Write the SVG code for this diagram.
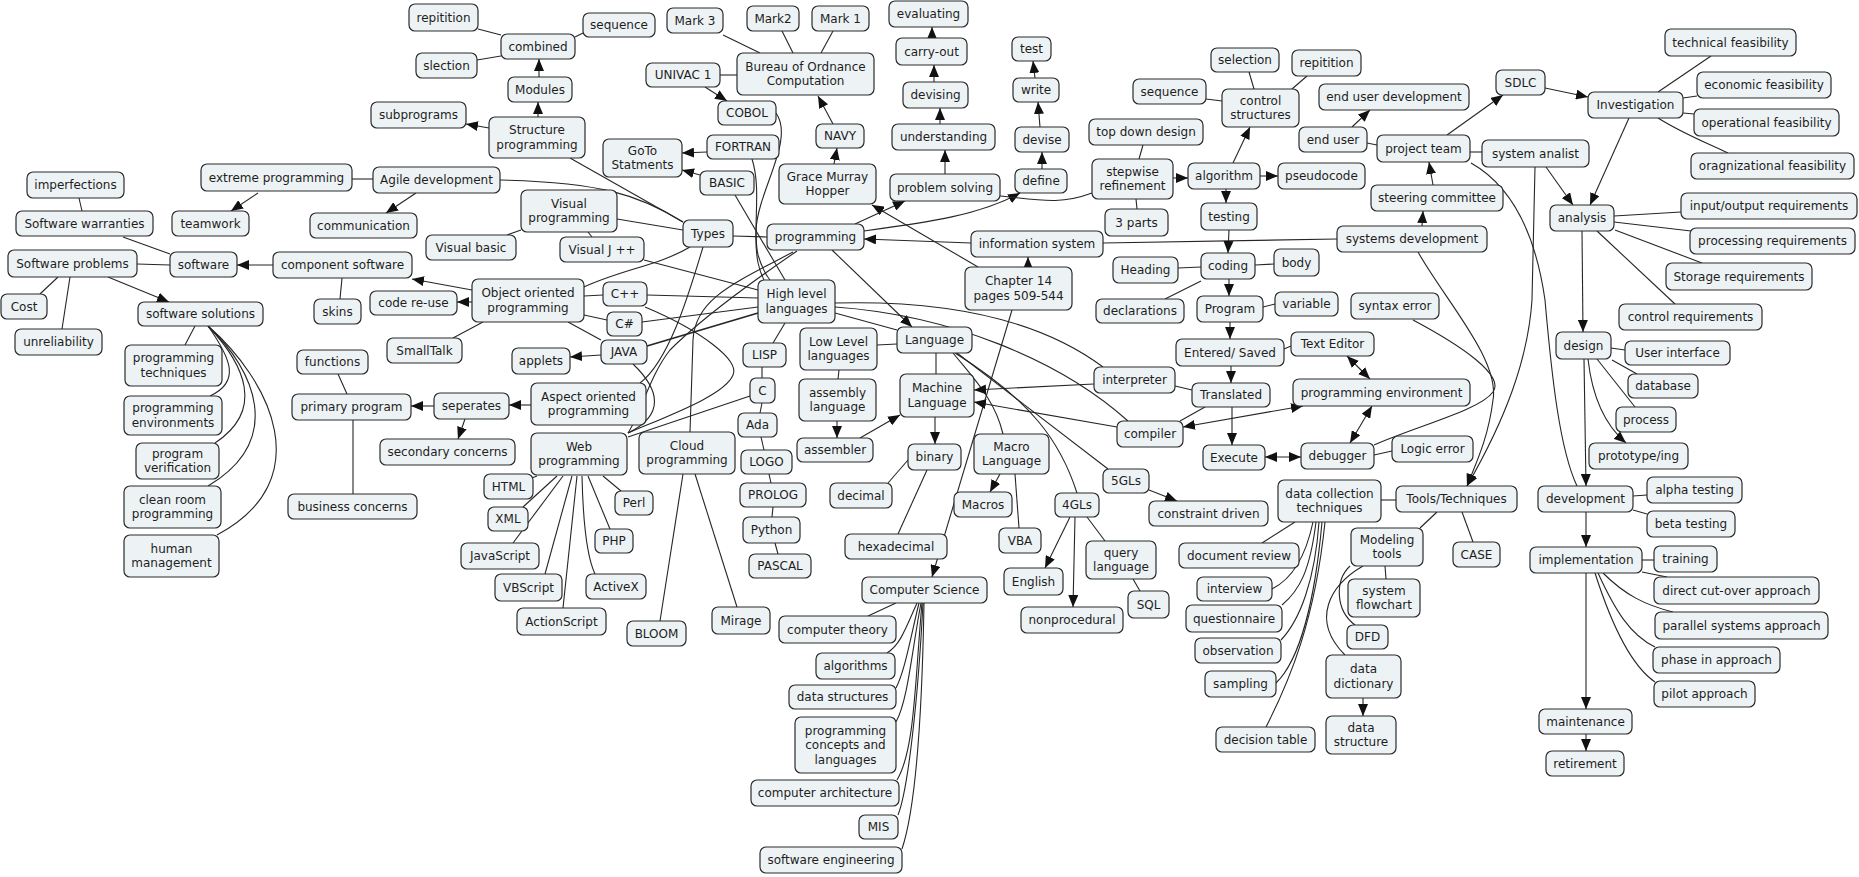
<svg xmlns="http://www.w3.org/2000/svg" width="1859" height="877" viewBox="0 0 1859 877">
<style>
.n rect{fill:#edf3f5;stroke:#2b2b2b;stroke-width:1.2}
.n text{font-family:"DejaVu Sans",Verdana,sans-serif;font-size:12px;fill:#1e1e1e;text-anchor:middle;dominant-baseline:central}
#edges path{fill:none;stroke:#262626;stroke-width:1.1}
#edges .a{marker-end:url(#ah)}
#edges .d{marker-start:url(#ah);marker-end:url(#ah)}
</style>
<defs>
<marker id="ah" viewBox="0 0 12 10" refX="12" refY="5" markerWidth="12" markerHeight="10" markerUnits="userSpaceOnUse" orient="auto-start-reverse"><path d="M0,0 L12,5 L0,10 z" fill="#111"/></marker>
</defs>
<rect width="1859" height="877" fill="#fff"/>
<g id="edges">
<path d="M501,35 L478,29"/>
<path d="M501,56 L477,60"/>
<path d="M575,37 L583,33"/>
<path class="a" d="M539,77 L539,59"/>
<path class="a" d="M538,117 L538,102"/>
<path class="a" d="M489,128 L466,124"/>
<path d="M570,158 L683,222"/>
<path d="M352,179 L373,179"/>
<path class="a" d="M258,193 L231,211"/>
<path class="a" d="M416,193 L386,213"/>
<path d="M500,180 C600,182 640,195 683,222"/>
<path d="M79,198 L82,211"/>
<path d="M123,237 L170,254"/>
<path d="M137,264 L170,265"/>
<path class="a" d="M273,265 L237,265"/>
<path d="M58,277 L40,294"/>
<path d="M70,277 L62,329"/>
<path class="a" d="M108,277 L169,302"/>
<path d="M195,326 L185,345"/>
<path d="M208,326 C232,360 240,382 210,396"/>
<path d="M208,326 C245,365 265,410 215,443"/>
<path d="M208,326 C255,370 285,440 208,486"/>
<path d="M208,326 C270,380 320,480 217,535"/>
<path d="M342,278 L340,299"/>
<path class="a" d="M472,290 L412,279"/>
<path class="a" d="M472,302 L457,302"/>
<path d="M483,322 L453,338"/>
<path d="M584,296 L603,295"/>
<path d="M584,315 L607,320"/>
<path d="M568,322 L601,340"/>
<path d="M521,230 L507,235"/>
<path d="M588,232 L592,237"/>
<path d="M617,219 L683,230"/>
<path d="M733,236 L767,237"/>
<path d="M690,247 C660,265 620,270 584,287"/>
<path d="M703,247 C690,290 670,360 640,383"/>
<path d="M644,260 L758,290"/>
<path d="M647,295 L758,298"/>
<path d="M642,322 L758,307"/>
<path d="M647,346 L758,313" style="stroke-width:1.8"/>
<path class="a" d="M601,355 L570,357"/>
<path d="M633,364 C660,390 665,415 628,433"/>
<path d="M645,307 C700,330 740,360 733,375 C725,395 670,415 628,433"/>
<path d="M750,396 L628,437"/>
<path d="M797,251 C740,290 700,320 670,350 C650,375 640,415 628,433"/>
<path d="M793,252 C730,285 695,300 693,340 L690,432"/>
<path d="M785,323 L773,343"/>
<path d="M762,367 L762,378"/>
<path d="M762,403 L760,413"/>
<path d="M761,437 L764,450"/>
<path d="M769,474 L771,483"/>
<path d="M773,507 L772,517"/>
<path d="M775,543 L778,554"/>
<path class="a" d="M531,405 L509,405"/>
<path class="a" d="M434,406 L411,406"/>
<path class="a" d="M465,419 L458,439"/>
<path d="M347,394 L338,374"/>
<path d="M353,420 L353,494"/>
<path d="M537,476 L532,478"/>
<path d="M557,476 L523,507"/>
<path d="M563,476 L513,543"/>
<path d="M572,476 L545,574"/>
<path d="M577,476 L563,608"/>
<path d="M582,476 C583,520 586,555 595,574"/>
<path d="M588,476 L610,529"/>
<path d="M603,476 L621,491"/>
<path d="M683,474 L660,621"/>
<path d="M695,474 L737,607"/>
<path d="M723,35 L760,53"/>
<path d="M782,31 L793,53"/>
<path d="M833,31 L821,53"/>
<path d="M720,75 L737,75"/>
<path class="a" d="M705,87 L727,101"/>
<path class="a" d="M833,124 L818,96"/>
<path class="a" d="M834,164 L837,148"/>
<path class="a" d="M707,152 L682,153"/>
<path class="a" d="M700,175 L682,170"/>
<path d="M776,113 C795,140 758,190 756,230 C755,260 760,272 764,280"/>
<path d="M752,159 C762,190 752,230 758,255 C762,268 766,275 770,280"/>
<path d="M735,195 L785,280"/>
<path class="a" d="M978,267 L872,205"/>
<path class="a" d="M855,224 L905,201"/>
<path class="a" d="M864,231 C930,222 980,215 1020,193"/>
<path d="M1000,196 C1040,200 1060,205 1092,193"/>
<path class="a" d="M971,243 L864,239"/>
<path class="a" d="M1028,267 L1028,257"/>
<path class="a" d="M1012,310 L932,577"/>
<path class="a" d="M832,250 L912,327"/>
<path d="M1103,243 L1337,239"/>
<path d="M835,303 C950,300 1040,320 1103,367"/>
<path d="M835,307 C950,315 1060,360 1128,421"/>
<path d="M835,313 L897,330"/>
<path d="M877,345 L897,344"/>
<path d="M936,353 L936,374"/>
<path d="M953,353 C975,380 995,400 1003,434"/>
<path d="M955,353 C1030,400 1060,440 1077,493"/>
<path d="M957,353 L1108,469"/>
<path class="a" d="M935,417 L935,444"/>
<path d="M908,460 L888,483"/>
<path d="M927,470 L898,534"/>
<path d="M839,370 L838,379"/>
<path class="a" d="M837,421 L837,438"/>
<path class="a" d="M860,438 L900,415"/>
<path class="a" d="M1094,384 L974,390"/>
<path class="a" d="M1117,427 L974,402"/>
<path d="M1175,386 L1192,390"/>
<path d="M1205,407 L1180,421"/>
<path class="d" d="M1183,427 L1303,406"/>
<path class="a" d="M1232,407 L1232,445"/>
<path class="d" d="M1265,457 L1301,457"/>
<path class="d" d="M1350,443 L1372,406"/>
<path class="d" d="M1347,356 L1370,379"/>
<path d="M1284,349 L1291,346"/>
<path class="a" d="M1231,366 L1231,383"/>
<path class="a" d="M1230,322 L1230,339"/>
<path d="M1263,307 L1275,304"/>
<path class="a" d="M1229,279 L1229,296"/>
<path d="M1201,267 L1178,268"/>
<path d="M1255,265 L1274,264"/>
<path d="M1201,281 L1165,299"/>
<path class="a" d="M1229,230 L1228,253"/>
<path class="a" d="M1226,189 L1226,203"/>
<path class="a" d="M1260,176 L1278,176"/>
<path class="a" d="M1233,163 L1250,127"/>
<path class="a" d="M1173,178 L1188,178"/>
<path d="M1139,159 L1143,145"/>
<path d="M1136,199 L1137,209"/>
<path d="M1222,101 L1206,99"/>
<path d="M1254,89 L1249,72"/>
<path d="M1292,89 L1307,76"/>
<path class="a" d="M945,174 L945,150"/>
<path class="a" d="M940,124 L940,108"/>
<path class="a" d="M934,82 L934,65"/>
<path class="a" d="M932,38 L932,27"/>
<path class="a" d="M1042,169 L1042,152"/>
<path class="a" d="M1040,127 L1038,102"/>
<path class="a" d="M1035,78 L1033,61"/>
<path class="a" d="M1422,226 L1423,211"/>
<path class="a" d="M1433,185 L1429,162"/>
<path d="M1367,143 L1377,145"/>
<path class="a" d="M1352,127 L1370,110"/>
<path class="a" d="M1447,135 L1503,95"/>
<path class="a" d="M1545,88 L1588,97"/>
<path d="M1470,152 L1482,152"/>
<path d="M1658,92 L1711,56"/>
<path d="M1683,98 L1697,96"/>
<path d="M1683,113 L1694,114"/>
<path d="M1658,118 C1680,132 1700,140 1728,153"/>
<path class="a" d="M1629,118 L1590,205"/>
<path class="a" d="M1546,167 L1573,205"/>
<path d="M1614,216 L1681,212"/>
<path d="M1614,222 L1691,231"/>
<path d="M1615,230 L1702,263"/>
<path d="M1597,231 L1675,304"/>
<path class="a" d="M1582,231 L1583,332"/>
<path d="M1611,348 L1625,350"/>
<path d="M1612,360 L1637,374"/>
<path d="M1597,359 L1635,407"/>
<path class="a" d="M1588,359 C1592,395 1605,425 1626,443"/>
<path class="a" d="M1584,359 L1586,486"/>
<path d="M1633,496 L1647,495"/>
<path d="M1633,510 L1647,514"/>
<path class="a" d="M1586,512 L1586,547"/>
<path d="M1642,560 L1654,560"/>
<path d="M1642,572 L1667,577"/>
<path d="M1603,573 C1625,595 1645,605 1673,612"/>
<path d="M1598,573 C1615,610 1630,635 1655,647"/>
<path d="M1595,573 C1610,620 1630,665 1655,682"/>
<path class="a" d="M1586,573 L1586,709"/>
<path class="a" d="M1586,734 L1586,751"/>
<path d="M1471,163 C1510,185 1535,230 1545,300 C1552,380 1560,450 1577,486"/>
<path class="a" d="M1535,167 L1532,300 C1528,360 1505,420 1467,486"/>
<path class="a" d="M1418,252 C1445,300 1500,360 1493,400 C1488,440 1475,465 1467,486"/>
<path d="M1413,320 C1460,345 1505,375 1493,392 C1480,410 1420,425 1374,445"/>
<path d="M1374,455 L1392,451"/>
<path d="M1381,500 L1396,500"/>
<path d="M1437,512 L1420,528"/>
<path d="M1462,512 L1473,542"/>
<path d="M1295,522 L1262,543"/>
<path d="M1313,522 C1305,560 1290,580 1272,589"/>
<path d="M1316,522 C1310,570 1300,590 1282,605"/>
<path d="M1319,522 C1315,580 1300,620 1281,640"/>
<path d="M1322,522 C1315,600 1300,660 1276,683"/>
<path d="M1325,522 C1315,620 1290,680 1266,727"/>
<path d="M1385,566 L1386,579"/>
<path d="M1350,566 C1335,580 1335,610 1355,625"/>
<path d="M1363,566 C1330,585 1310,620 1345,655"/>
<path class="a" d="M1363,698 L1363,716"/>
<path class="a" d="M1149,490 L1177,501"/>
<path class="a" d="M1000,474 L990,492"/>
<path d="M1015,474 L1019,528"/>
<path class="a" d="M1070,517 L1045,568"/>
<path class="a" d="M1075,517 L1073,607"/>
<path d="M1087,517 L1105,541"/>
<path d="M1133,579 L1140,591"/>
<path d="M896,603 L868,616"/>
<path d="M917,603 C905,630 900,645 887,653"/>
<path d="M919,603 C910,640 905,670 896,688"/>
<path d="M921,603 C912,650 908,700 896,722"/>
<path d="M922,603 C915,680 915,750 897,780"/>
<path d="M923,603 C918,700 908,790 898,815"/>
<path d="M924,603 C922,720 915,810 902,849"/>
</g>
<g id="n-repitition1" class="n"><rect x="409" y="4" width="69" height="27" rx="6"/><text x="443.5" y="17.5">repitition</text></g>
<g id="n-slection" class="n"><rect x="416" y="53" width="61" height="25" rx="6"/><text x="446.5" y="65.5">slection</text></g>
<g id="n-sequence1" class="n"><rect x="583" y="13" width="72" height="24" rx="6"/><text x="619" y="25">sequence</text></g>
<g id="n-combined" class="n"><rect x="501" y="34" width="74" height="25" rx="6"/><text x="538" y="46.5">combined</text></g>
<g id="n-modules" class="n"><rect x="508" y="77" width="64" height="25" rx="6"/><text x="540" y="89.5">Modules</text></g>
<g id="n-subprograms" class="n"><rect x="371" y="102" width="95" height="26" rx="6"/><text x="418.5" y="115">subprograms</text></g>
<g id="n-structprog" class="n"><rect x="489" y="117" width="96" height="41" rx="6"/><text x="537" y="130.25">Structure<tspan x="537" dy="14.5">programming</tspan></text></g>
<g id="n-extreme" class="n"><rect x="201" y="164" width="151" height="27" rx="6"/><text x="276.5" y="177.5">extreme programming</text></g>
<g id="n-agile" class="n"><rect x="373" y="167" width="127" height="26" rx="6"/><text x="436.5" y="180">Agile development</text></g>
<g id="n-imperfections" class="n"><rect x="27" y="172" width="97" height="26" rx="6"/><text x="75.5" y="185">imperfections</text></g>
<g id="n-warranties" class="n"><rect x="16" y="211" width="137" height="25" rx="6"/><text x="84.5" y="223.5">Software warranties</text></g>
<g id="n-teamwork" class="n"><rect x="172" y="211" width="77" height="25" rx="6"/><text x="210.5" y="223.5">teamwork</text></g>
<g id="n-communication" class="n"><rect x="310" y="213" width="107" height="25" rx="6"/><text x="363.5" y="225.5">communication</text></g>
<g id="n-swproblems" class="n"><rect x="8" y="250" width="129" height="27" rx="6"/><text x="72.5" y="263.5">Software problems</text></g>
<g id="n-software" class="n"><rect x="170" y="252" width="67" height="25" rx="6"/><text x="203.5" y="264.5">software</text></g>
<g id="n-compsw" class="n"><rect x="273" y="252" width="139" height="26" rx="6"/><text x="342.5" y="265">component software</text></g>
<g id="n-visualbasic" class="n"><rect x="426" y="235" width="90" height="25" rx="6"/><text x="471" y="247.5">Visual basic</text></g>
<g id="n-mark3" class="n"><rect x="667" y="8" width="56" height="25" rx="6"/><text x="695" y="20.5">Mark 3</text></g>
<g id="n-mark2" class="n"><rect x="747" y="6" width="52" height="25" rx="6"/><text x="773" y="18.5">Mark2</text></g>
<g id="n-mark1" class="n"><rect x="812" y="6" width="57" height="25" rx="6"/><text x="840.5" y="18.5">Mark 1</text></g>
<g id="n-evaluating" class="n"><rect x="889" y="1" width="79" height="26" rx="6"/><text x="928.5" y="14">evaluating</text></g>
<g id="n-univac" class="n"><rect x="646" y="63" width="74" height="24" rx="6"/><text x="683" y="75">UNIVAC 1</text></g>
<g id="n-bureau" class="n"><rect x="737" y="53" width="137" height="42" rx="6"/><text x="805.5" y="66.75">Bureau of Ordnance<tspan x="805.5" dy="14.5">Computation</tspan></text></g>
<g id="n-carryout" class="n"><rect x="896" y="38" width="71" height="27" rx="6"/><text x="931.5" y="51.5">carry-out</text></g>
<g id="n-devising" class="n"><rect x="903" y="82" width="65" height="26" rx="6"/><text x="935.5" y="95">devising</text></g>
<g id="n-cobol" class="n"><rect x="718" y="101" width="58" height="24" rx="6"/><text x="747" y="113">COBOL</text></g>
<g id="n-navy" class="n"><rect x="816" y="124" width="48" height="24" rx="6"/><text x="840" y="136">NAVY</text></g>
<g id="n-understanding" class="n"><rect x="892" y="124" width="103" height="26" rx="6"/><text x="943.5" y="137">understanding</text></g>
<g id="n-fortran" class="n"><rect x="707" y="135" width="72" height="24" rx="6"/><text x="743" y="147">FORTRAN</text></g>
<g id="n-goto" class="n"><rect x="603" y="139" width="79" height="38" rx="6"/><text x="642.5" y="150.75">GoTo<tspan x="642.5" dy="14.5">Statments</tspan></text></g>
<g id="n-basic" class="n"><rect x="700" y="171" width="54" height="24" rx="6"/><text x="727" y="183">BASIC</text></g>
<g id="n-grace" class="n"><rect x="779" y="164" width="97" height="40" rx="6"/><text x="827.5" y="176.75">Grace Murray<tspan x="827.5" dy="14.5">Hopper</tspan></text></g>
<g id="n-problemsolving" class="n"><rect x="890" y="174" width="110" height="27" rx="6"/><text x="945" y="187.5">problem solving</text></g>
<g id="n-visualprog" class="n"><rect x="521" y="190" width="96" height="42" rx="6"/><text x="569" y="203.75">Visual<tspan x="569" dy="14.5">programming</tspan></text></g>
<g id="n-types" class="n"><rect x="683" y="220" width="50" height="27" rx="6"/><text x="708" y="233.5">Types</text></g>
<g id="n-programming" class="n"><rect x="767" y="224" width="97" height="26" rx="6"/><text x="815.5" y="237">programming</text></g>
<g id="n-visualj" class="n"><rect x="560" y="237" width="84" height="25" rx="6"/><text x="602" y="249.5">Visual J ++</text></g>
<g id="n-oop" class="n"><rect x="472" y="279" width="112" height="43" rx="6"/><text x="528" y="293.25">Object oriented<tspan x="528" dy="14.5">programming</tspan></text></g>
<g id="n-cpp" class="n"><rect x="603" y="282" width="44" height="24" rx="6"/><text x="625" y="294">C++</text></g>
<g id="n-highlevel" class="n"><rect x="758" y="280" width="77" height="43" rx="6"/><text x="796.5" y="294.25">High level<tspan x="796.5" dy="14.5">languages</tspan></text></g>
<g id="n-test" class="n"><rect x="1012" y="37" width="39" height="24" rx="6"/><text x="1031.5" y="49">test</text></g>
<g id="n-write" class="n"><rect x="1013" y="78" width="46" height="24" rx="6"/><text x="1036" y="90">write</text></g>
<g id="n-devise" class="n"><rect x="1015" y="127" width="54" height="25" rx="6"/><text x="1042" y="139.5">devise</text></g>
<g id="n-define" class="n"><rect x="1015" y="169" width="52" height="24" rx="6"/><text x="1041" y="181">define</text></g>
<g id="n-selection" class="n"><rect x="1211" y="48" width="68" height="24" rx="6"/><text x="1245" y="60">selection</text></g>
<g id="n-repitition2" class="n"><rect x="1292" y="50" width="69" height="26" rx="6"/><text x="1326.5" y="63">repitition</text></g>
<g id="n-sequence2" class="n"><rect x="1133" y="79" width="73" height="25" rx="6"/><text x="1169.5" y="91.5">sequence</text></g>
<g id="n-controlstruct" class="n"><rect x="1222" y="89" width="77" height="38" rx="6"/><text x="1260.5" y="100.75">control<tspan x="1260.5" dy="14.5">structures</tspan></text></g>
<g id="n-enduserdev" class="n"><rect x="1319" y="84" width="150" height="26" rx="6"/><text x="1394" y="97">end user development</text></g>
<g id="n-topdown" class="n"><rect x="1089" y="119" width="114" height="26" rx="6"/><text x="1146" y="132">top down design</text></g>
<g id="n-enduser" class="n"><rect x="1299" y="127" width="68" height="25" rx="6"/><text x="1333" y="139.5">end user</text></g>
<g id="n-projectteam" class="n"><rect x="1377" y="135" width="93" height="27" rx="6"/><text x="1423.5" y="148.5">project team</text></g>
<g id="n-stepwise" class="n"><rect x="1092" y="159" width="81" height="40" rx="6"/><text x="1132.5" y="171.75">stepwise<tspan x="1132.5" dy="14.5">refinement</tspan></text></g>
<g id="n-algorithm" class="n"><rect x="1188" y="163" width="72" height="26" rx="6"/><text x="1224" y="176">algorithm</text></g>
<g id="n-pseudocode" class="n"><rect x="1278" y="163" width="87" height="26" rx="6"/><text x="1321.5" y="176">pseudocode</text></g>
<g id="n-steering" class="n"><rect x="1371" y="185" width="132" height="26" rx="6"/><text x="1437" y="198">steering committee</text></g>
<g id="n-threeparts" class="n"><rect x="1105" y="209" width="63" height="27" rx="6"/><text x="1136.5" y="222.5">3 parts</text></g>
<g id="n-testing" class="n"><rect x="1201" y="203" width="56" height="27" rx="6"/><text x="1229" y="216.5">testing</text></g>
<g id="n-infosys" class="n"><rect x="971" y="231" width="132" height="26" rx="6"/><text x="1037" y="244">information system</text></g>
<g id="n-sysdev" class="n"><rect x="1337" y="226" width="150" height="26" rx="6"/><text x="1412" y="239">systems development</text></g>
<g id="n-chapter14" class="n"><rect x="965" y="267" width="107" height="43" rx="6"/><text x="1018.5" y="281.25">Chapter 14<tspan x="1018.5" dy="14.5">pages 509-544</tspan></text></g>
<g id="n-heading" class="n"><rect x="1113" y="257" width="65" height="26" rx="6"/><text x="1145.5" y="270">Heading</text></g>
<g id="n-coding" class="n"><rect x="1201" y="253" width="54" height="26" rx="6"/><text x="1228" y="266">coding</text></g>
<g id="n-body" class="n"><rect x="1274" y="249" width="45" height="27" rx="6"/><text x="1296.5" y="262.5">body</text></g>
<g id="n-technical" class="n"><rect x="1665" y="29" width="131" height="27" rx="6"/><text x="1730.5" y="42.5">technical feasibility</text></g>
<g id="n-sdlc" class="n"><rect x="1496" y="70" width="49" height="25" rx="6"/><text x="1520.5" y="82.5">SDLC</text></g>
<g id="n-economic" class="n"><rect x="1697" y="72" width="134" height="26" rx="6"/><text x="1764" y="85">economic feasibility</text></g>
<g id="n-investigation" class="n"><rect x="1588" y="92" width="95" height="26" rx="6"/><text x="1635.5" y="105">Investigation</text></g>
<g id="n-operational" class="n"><rect x="1694" y="109" width="145" height="27" rx="6"/><text x="1766.5" y="122.5">operational feasibility</text></g>
<g id="n-sysanalist" class="n"><rect x="1482" y="140" width="107" height="27" rx="6"/><text x="1535.5" y="153.5">system analist</text></g>
<g id="n-organizational" class="n"><rect x="1691" y="153" width="163" height="26" rx="6"/><text x="1772.5" y="166">oragnizational feasibility</text></g>
<g id="n-analysis" class="n"><rect x="1550" y="205" width="64" height="26" rx="6"/><text x="1582" y="218">analysis</text></g>
<g id="n-inputoutput" class="n"><rect x="1681" y="193" width="176" height="26" rx="6"/><text x="1769" y="206">input/output requirements</text></g>
<g id="n-processing" class="n"><rect x="1690" y="228" width="165" height="26" rx="6"/><text x="1772.5" y="241">processing requirements</text></g>
<g id="n-storage" class="n"><rect x="1666" y="263" width="146" height="27" rx="6"/><text x="1739" y="276.5">Storage requirements</text></g>
<g id="n-cost" class="n"><rect x="1" y="294" width="46" height="25" rx="6"/><text x="24" y="306.5">Cost</text></g>
<g id="n-unreliability" class="n"><rect x="15" y="329" width="87" height="26" rx="6"/><text x="58.5" y="342">unreliability</text></g>
<g id="n-swsolutions" class="n"><rect x="138" y="302" width="125" height="24" rx="6"/><text x="200.5" y="314">software solutions</text></g>
<g id="n-progtech" class="n"><rect x="125" y="345" width="97" height="41" rx="6"/><text x="173.5" y="358.25">programming<tspan x="173.5" dy="14.5">techniques</tspan></text></g>
<g id="n-progenv" class="n"><rect x="124" y="396" width="98" height="39" rx="6"/><text x="173" y="408.25">programming<tspan x="173" dy="14.5">environments</tspan></text></g>
<g id="n-progverif" class="n"><rect x="136" y="443" width="83" height="36" rx="6"/><text x="177.5" y="453.75">program<tspan x="177.5" dy="14.5">verification</tspan></text></g>
<g id="n-cleanroom" class="n"><rect x="124" y="486" width="97" height="42" rx="6"/><text x="172.5" y="499.75">clean room<tspan x="172.5" dy="14.5">programming</tspan></text></g>
<g id="n-humanmgmt" class="n"><rect x="124" y="535" width="95" height="42" rx="6"/><text x="171.5" y="548.75">human<tspan x="171.5" dy="14.5">management</tspan></text></g>
<g id="n-skins" class="n"><rect x="314" y="299" width="47" height="25" rx="6"/><text x="337.5" y="311.5">skins</text></g>
<g id="n-codereuse" class="n"><rect x="370" y="291" width="87" height="24" rx="6"/><text x="413.5" y="303">code re-use</text></g>
<g id="n-smalltalk" class="n"><rect x="387" y="338" width="75" height="25" rx="6"/><text x="424.5" y="350.5">SmallTalk</text></g>
<g id="n-functions" class="n"><rect x="297" y="350" width="71" height="24" rx="6"/><text x="332.5" y="362">functions</text></g>
<g id="n-primary" class="n"><rect x="292" y="394" width="119" height="26" rx="6"/><text x="351.5" y="407">primary program</text></g>
<g id="n-seperates" class="n"><rect x="434" y="393" width="75" height="26" rx="6"/><text x="471.5" y="406">seperates</text></g>
<g id="n-secondary" class="n"><rect x="380" y="439" width="135" height="26" rx="6"/><text x="447.5" y="452">secondary concerns</text></g>
<g id="n-business" class="n"><rect x="288" y="494" width="129" height="25" rx="6"/><text x="352.5" y="506.5">business concerns</text></g>
<g id="n-csharp" class="n"><rect x="607" y="312" width="35" height="24" rx="6"/><text x="624.5" y="324">C#</text></g>
<g id="n-java" class="n"><rect x="601" y="340" width="46" height="24" rx="6"/><text x="624" y="352">JAVA</text></g>
<g id="n-applets" class="n"><rect x="512" y="348" width="58" height="26" rx="6"/><text x="541" y="361">applets</text></g>
<g id="n-aspect" class="n"><rect x="531" y="383" width="115" height="42" rx="6"/><text x="588.5" y="396.75">Aspect oriented<tspan x="588.5" dy="14.5">programming</tspan></text></g>
<g id="n-web" class="n"><rect x="531" y="433" width="96" height="42" rx="6"/><text x="579" y="446.75">Web<tspan x="579" dy="14.5">programming</tspan></text></g>
<g id="n-cloud" class="n"><rect x="639" y="432" width="96" height="42" rx="6"/><text x="687" y="445.75">Cloud<tspan x="687" dy="14.5">programming</tspan></text></g>
<g id="n-lisp" class="n"><rect x="743" y="343" width="43" height="24" rx="6"/><text x="764.5" y="355">LISP</text></g>
<g id="n-lowlevel" class="n"><rect x="800" y="328" width="77" height="42" rx="6"/><text x="838.5" y="341.75">Low Level<tspan x="838.5" dy="14.5">languages</tspan></text></g>
<g id="n-language" class="n"><rect x="897" y="327" width="75" height="26" rx="6"/><text x="934.5" y="340">Language</text></g>
<g id="n-c" class="n"><rect x="750" y="378" width="25" height="25" rx="6"/><text x="762.5" y="390.5">C</text></g>
<g id="n-assembly" class="n"><rect x="799" y="379" width="77" height="42" rx="6"/><text x="837.5" y="392.75">assembly<tspan x="837.5" dy="14.5">language</tspan></text></g>
<g id="n-machine" class="n"><rect x="900" y="374" width="74" height="43" rx="6"/><text x="937" y="388.25">Machine<tspan x="937" dy="14.5">Language</tspan></text></g>
<g id="n-ada" class="n"><rect x="738" y="413" width="39" height="24" rx="6"/><text x="757.5" y="425">Ada</text></g>
<g id="n-assembler" class="n"><rect x="797" y="438" width="76" height="24" rx="6"/><text x="835" y="450">assembler</text></g>
<g id="n-binary" class="n"><rect x="908" y="444" width="53" height="26" rx="6"/><text x="934.5" y="457">binary</text></g>
<g id="n-logo" class="n"><rect x="741" y="450" width="51" height="24" rx="6"/><text x="766.5" y="462">LOGO</text></g>
<g id="n-html" class="n"><rect x="484" y="474" width="49" height="25" rx="6"/><text x="508.5" y="486.5">HTML</text></g>
<g id="n-perl" class="n"><rect x="615" y="491" width="38" height="24" rx="6"/><text x="634" y="503">Perl</text></g>
<g id="n-prolog" class="n"><rect x="740" y="483" width="66" height="24" rx="6"/><text x="773" y="495">PROLOG</text></g>
<g id="n-decimal" class="n"><rect x="830" y="483" width="62" height="25" rx="6"/><text x="861" y="495.5">decimal</text></g>
<g id="n-xml" class="n"><rect x="488" y="507" width="40" height="24" rx="6"/><text x="508" y="519">XML</text></g>
<g id="n-python" class="n"><rect x="743" y="517" width="57" height="26" rx="6"/><text x="771.5" y="530">Python</text></g>
<g id="n-php" class="n"><rect x="595" y="529" width="38" height="24" rx="6"/><text x="614" y="541">PHP</text></g>
<g id="n-hexadecimal" class="n"><rect x="845" y="534" width="102" height="25" rx="6"/><text x="896" y="546.5">hexadecimal</text></g>
<g id="n-javascript" class="n"><rect x="461" y="543" width="78" height="26" rx="6"/><text x="500" y="556">JavaScript</text></g>
<g id="n-pascal" class="n"><rect x="749" y="554" width="62" height="24" rx="6"/><text x="780" y="566">PASCAL</text></g>
<g id="n-vbscript" class="n"><rect x="495" y="574" width="67" height="27" rx="6"/><text x="528.5" y="587.5">VBScript</text></g>
<g id="n-activex" class="n"><rect x="586" y="574" width="60" height="25" rx="6"/><text x="616" y="586.5">ActiveX</text></g>
<g id="n-compsci" class="n"><rect x="862" y="577" width="125" height="26" rx="6"/><text x="924.5" y="590">Computer Science</text></g>
<g id="n-declarations" class="n"><rect x="1096" y="299" width="88" height="24" rx="6"/><text x="1140" y="311">declarations</text></g>
<g id="n-program" class="n"><rect x="1197" y="296" width="66" height="26" rx="6"/><text x="1230" y="309">Program</text></g>
<g id="n-variable" class="n"><rect x="1275" y="292" width="63" height="24" rx="6"/><text x="1306.5" y="304">variable</text></g>
<g id="n-syntax" class="n"><rect x="1351" y="293" width="88" height="26" rx="6"/><text x="1395" y="306">syntax error</text></g>
<g id="n-texteditor" class="n"><rect x="1291" y="332" width="83" height="24" rx="6"/><text x="1332.5" y="344">Text Editor</text></g>
<g id="n-entered" class="n"><rect x="1176" y="339" width="108" height="27" rx="6"/><text x="1230" y="352.5">Entered/ Saved</text></g>
<g id="n-interpreter" class="n"><rect x="1094" y="367" width="81" height="26" rx="6"/><text x="1134.5" y="380">interpreter</text></g>
<g id="n-translated" class="n"><rect x="1192" y="383" width="78" height="24" rx="6"/><text x="1231" y="395">Translated</text></g>
<g id="n-progenvironment" class="n"><rect x="1293" y="379" width="177" height="27" rx="6"/><text x="1381.5" y="392.5">programming environment</text></g>
<g id="n-compiler" class="n"><rect x="1117" y="421" width="66" height="26" rx="6"/><text x="1150" y="434">compiler</text></g>
<g id="n-execute" class="n"><rect x="1203" y="445" width="62" height="25" rx="6"/><text x="1234" y="457.5">Execute</text></g>
<g id="n-debugger" class="n"><rect x="1301" y="443" width="73" height="26" rx="6"/><text x="1337.5" y="456">debugger</text></g>
<g id="n-logicerror" class="n"><rect x="1392" y="436" width="81" height="26" rx="6"/><text x="1432.5" y="449">Logic error</text></g>
<g id="n-macrolang" class="n"><rect x="974" y="434" width="75" height="40" rx="6"/><text x="1011.5" y="446.75">Macro<tspan x="1011.5" dy="14.5">Language</tspan></text></g>
<g id="n-fivegl" class="n"><rect x="1103" y="469" width="46" height="24" rx="6"/><text x="1126" y="481">5GLs</text></g>
<g id="n-datacollection" class="n"><rect x="1278" y="480" width="103" height="42" rx="6"/><text x="1329.5" y="493.75">data collection<tspan x="1329.5" dy="14.5">techniques</tspan></text></g>
<g id="n-macros" class="n"><rect x="954" y="492" width="58" height="25" rx="6"/><text x="983" y="504.5">Macros</text></g>
<g id="n-fourgl" class="n"><rect x="1055" y="493" width="44" height="24" rx="6"/><text x="1077" y="505">4GLs</text></g>
<g id="n-constraint" class="n"><rect x="1149" y="501" width="119" height="25" rx="6"/><text x="1208.5" y="513.5">constraint driven</text></g>
<g id="n-tools" class="n"><rect x="1396" y="486" width="121" height="26" rx="6"/><text x="1456.5" y="499">Tools/Techniques</text></g>
<g id="n-vba" class="n"><rect x="999" y="528" width="42" height="25" rx="6"/><text x="1020" y="540.5">VBA</text></g>
<g id="n-query" class="n"><rect x="1086" y="541" width="70" height="38" rx="6"/><text x="1121" y="552.75">query<tspan x="1121" dy="14.5">language</tspan></text></g>
<g id="n-docreview" class="n"><rect x="1179" y="543" width="120" height="25" rx="6"/><text x="1239" y="555.5">document review</text></g>
<g id="n-modeling" class="n"><rect x="1351" y="528" width="72" height="38" rx="6"/><text x="1387" y="539.75">Modeling<tspan x="1387" dy="14.5">tools</tspan></text></g>
<g id="n-english" class="n"><rect x="1004" y="568" width="59" height="27" rx="6"/><text x="1033.5" y="581.5">English</text></g>
<g id="n-interview" class="n"><rect x="1197" y="577" width="75" height="24" rx="6"/><text x="1234.5" y="589">interview</text></g>
<g id="n-case" class="n"><rect x="1453" y="542" width="47" height="25" rx="6"/><text x="1476.5" y="554.5">CASE</text></g>
<g id="n-controlreq" class="n"><rect x="1619" y="304" width="143" height="26" rx="6"/><text x="1690.5" y="317">control requirements</text></g>
<g id="n-design" class="n"><rect x="1556" y="332" width="55" height="27" rx="6"/><text x="1583.5" y="345.5">design</text></g>
<g id="n-userinterface" class="n"><rect x="1625" y="341" width="105" height="24" rx="6"/><text x="1677.5" y="353">User interface</text></g>
<g id="n-database" class="n"><rect x="1628" y="374" width="70" height="24" rx="6"/><text x="1663" y="386">database</text></g>
<g id="n-process" class="n"><rect x="1616" y="407" width="60" height="25" rx="6"/><text x="1646" y="419.5">process</text></g>
<g id="n-prototype" class="n"><rect x="1589" y="443" width="99" height="26" rx="6"/><text x="1638.5" y="456">prototype/ing</text></g>
<g id="n-alpha" class="n"><rect x="1647" y="477" width="95" height="26" rx="6"/><text x="1694.5" y="490">alpha testing</text></g>
<g id="n-development" class="n"><rect x="1538" y="486" width="95" height="26" rx="6"/><text x="1585.5" y="499">development</text></g>
<g id="n-beta" class="n"><rect x="1647" y="511" width="88" height="26" rx="6"/><text x="1691" y="524">beta testing</text></g>
<g id="n-implementation" class="n"><rect x="1530" y="547" width="112" height="26" rx="6"/><text x="1586" y="560">implementation</text></g>
<g id="n-training" class="n"><rect x="1654" y="546" width="63" height="26" rx="6"/><text x="1685.5" y="559">training</text></g>
<g id="n-directcut" class="n"><rect x="1654" y="577" width="165" height="27" rx="6"/><text x="1736.5" y="590.5">direct cut-over approach</text></g>
<g id="n-parallel" class="n"><rect x="1655" y="612" width="173" height="27" rx="6"/><text x="1741.5" y="625.5">parallel systems approach</text></g>
<g id="n-phasein" class="n"><rect x="1653" y="647" width="127" height="26" rx="6"/><text x="1716.5" y="660">phase in approach</text></g>
<g id="n-pilot" class="n"><rect x="1654" y="681" width="101" height="26" rx="6"/><text x="1704.5" y="694">pilot approach</text></g>
<g id="n-maintenance" class="n"><rect x="1539" y="709" width="93" height="25" rx="6"/><text x="1585.5" y="721.5">maintenance</text></g>
<g id="n-retirement" class="n"><rect x="1546" y="751" width="78" height="25" rx="6"/><text x="1585" y="763.5">retirement</text></g>
<g id="n-actionscript" class="n"><rect x="517" y="608" width="89" height="27" rx="6"/><text x="561.5" y="621.5">ActionScript</text></g>
<g id="n-bloom" class="n"><rect x="627" y="621" width="59" height="25" rx="6"/><text x="656.5" y="633.5">BLOOM</text></g>
<g id="n-mirage" class="n"><rect x="712" y="607" width="58" height="27" rx="6"/><text x="741" y="620.5">Mirage</text></g>
<g id="n-comptheory" class="n"><rect x="779" y="616" width="117" height="27" rx="6"/><text x="837.5" y="629.5">computer theory</text></g>
<g id="n-algorithms" class="n"><rect x="816" y="653" width="79" height="26" rx="6"/><text x="855.5" y="666">algorithms</text></g>
<g id="n-datastructures" class="n"><rect x="789" y="685" width="107" height="24" rx="6"/><text x="842.5" y="697">data structures</text></g>
<g id="n-progconcepts" class="n"><rect x="795" y="717" width="101" height="56" rx="6"/><text x="845.5" y="730.5">programming<tspan x="845.5" dy="14.5">concepts and</tspan><tspan x="845.5" dy="14.5">languages</tspan></text></g>
<g id="n-comparch" class="n"><rect x="751" y="780" width="148" height="26" rx="6"/><text x="825" y="793">computer architecture</text></g>
<g id="n-mis" class="n"><rect x="859" y="815" width="39" height="24" rx="6"/><text x="878.5" y="827">MIS</text></g>
<g id="n-sweng" class="n"><rect x="760" y="847" width="142" height="26" rx="6"/><text x="831" y="860">software engineering</text></g>
<g id="n-nonprocedural" class="n"><rect x="1021" y="607" width="102" height="26" rx="6"/><text x="1072" y="620">nonprocedural</text></g>
<g id="n-sql" class="n"><rect x="1128" y="591" width="41" height="27" rx="6"/><text x="1148.5" y="604.5">SQL</text></g>
<g id="n-questionnaire" class="n"><rect x="1186" y="605" width="96" height="27" rx="6"/><text x="1234" y="618.5">questionnaire</text></g>
<g id="n-observation" class="n"><rect x="1195" y="638" width="86" height="25" rx="6"/><text x="1238" y="650.5">observation</text></g>
<g id="n-sampling" class="n"><rect x="1205" y="671" width="71" height="26" rx="6"/><text x="1240.5" y="684">sampling</text></g>
<g id="n-decisiontable" class="n"><rect x="1216" y="727" width="99" height="25" rx="6"/><text x="1265.5" y="739.5">decision table</text></g>
<g id="n-sysflowchart" class="n"><rect x="1348" y="579" width="72" height="38" rx="6"/><text x="1384" y="590.75">system<tspan x="1384" dy="14.5">flowchart</tspan></text></g>
<g id="n-dfd" class="n"><rect x="1347" y="625" width="41" height="24" rx="6"/><text x="1367.5" y="637">DFD</text></g>
<g id="n-datadict" class="n"><rect x="1326" y="655" width="75" height="43" rx="6"/><text x="1363.5" y="669.25">data<tspan x="1363.5" dy="14.5">dictionary</tspan></text></g>
<g id="n-datastructure" class="n"><rect x="1326" y="716" width="70" height="38" rx="6"/><text x="1361" y="727.75">data<tspan x="1361" dy="14.5">structure</tspan></text></g>
</svg>
